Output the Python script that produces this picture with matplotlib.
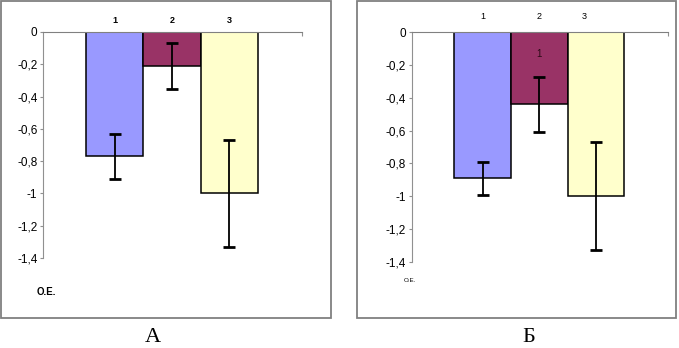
import matplotlib.pyplot as plt
import matplotlib.transforms as mtransforms
from matplotlib.patches import Rectangle

plt.rcParams['font.family'] = ['Liberation Sans', 'DejaVu Sans']

cats = ['1', '2', '3']
colors = ['#9999FF', '#993366', '#FFFFCC']
vals_a = [-0.77, -0.21, -1.0]
err_a = [0.14, 0.14, 0.33]
vals_b = [-0.89, -0.44, -1.0]
err_b = [0.10, 0.17, 0.33]
yticks = [0, -0.2, -0.4, -0.6, -0.8, -1.0, -1.2, -1.4]

W, H = 679, 348


def fmt(v):
    s = f'{v:.1f}'.rstrip('0').rstrip('.')
    if s == '-0':
        s = '0'
    return s.replace('.', ',')


def panel(fig, box, vals, errs, bold, cat_dy, oe_pos, oe_size):
    l, r, t, b = box
    ax = fig.add_axes([l / W, 1 - b / H, (r - l) / W, (b - t) / H])
    x = list(range(len(vals)))
    ax.bar(x, vals, width=1.0, color=colors, edgecolor='black', linewidth=1.1, zorder=2)
    ax.errorbar(x, vals, yerr=errs, fmt='none', ecolor='black', elinewidth=1.3,
                capsize=4, capthick=2, zorder=3)
    ax.set_xlim(-1.25, 3.27)
    ax.set_ylim(-1.4, 0)
    ax.set_yticks(yticks)
    ax.set_yticklabels([fmt(v) for v in yticks], fontsize=8.5)
    ax.tick_params(axis='y', length=2.5, width=0.8, color='#909090', pad=1.5)
    for s in ['top', 'right']:
        ax.spines[s].set_visible(False)
    ax.spines['left'].set_color('#909090')
    ax.spines['bottom'].set_position(('data', 0))
    ax.spines['bottom'].set_color('#808080')
    ax.set_xticks([3.27])
    ax.set_xticklabels([''])
    ax.tick_params(axis='x', length=3, width=0.8, color='#909090', direction='out')
    shift = mtransforms.ScaledTranslation(0, cat_dy / 100, fig.dpi_scale_trans)
    for xi, c in zip(x, cats):
        ax.text(xi - (0.2 if (not bold and xi == 2) else 0), 0, c, fontsize=6.5,
                fontweight='bold' if bold else 'normal',
                ha='center', va='bottom', transform=ax.transData + shift)
    fig.text(oe_pos[0] / W, 1 - oe_pos[1] / H, 'О.Е.', fontsize=oe_size,
             fontweight='bold' if bold else 'normal', ha='left', va='center')
    return ax


fig = plt.figure(figsize=(W / 100, H / 100), dpi=100)

# frames
fig.patches.append(Rectangle((1 / W, 1 - 318 / H), 330 / W, 317 / H, transform=fig.transFigure,
                             fill=False, edgecolor='#808080', linewidth=1.3))
fig.patches.append(Rectangle((357 / W, 1 - 318 / H), 319 / W, 317 / H, transform=fig.transFigure,
                             fill=False, edgecolor='#808080', linewidth=1.3))

panel(fig, (43, 302, 32, 258), vals_a, err_a, True, 7, (37, 292), 7)
ax_b = panel(fig, (411.7, 668, 32.3, 261.7), vals_b, err_b, False, 11, (404, 280), 4.5)
ax_b.text(1, -0.13, '1', fontsize=7, ha='center', va='center', color='#2a0a15')

serif = ['Liberation Serif', 'DejaVu Serif']
fig.text(153 / W, 1 - 337 / H, 'А', fontsize=16, family=serif, ha='center', va='center')
fig.text(529 / W, 1 - 337 / H, 'Б', fontsize=16, family=serif, ha='center', va='center')

fig.savefig('out.png', dpi=100)
